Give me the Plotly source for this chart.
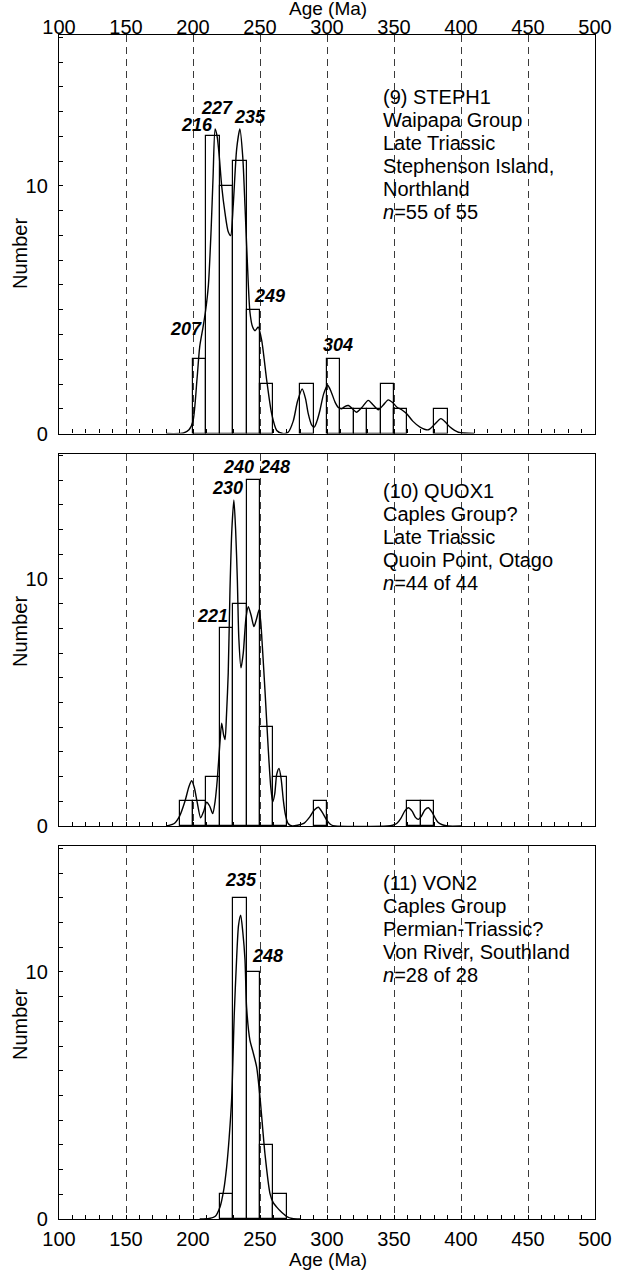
import plotly.graph_objects as go

# ---------------- data ----------------
# Histogram bins (left edge, Ma) and counts, 10 Ma bin width
bin_width = 10
steph_edges = [200, 210, 220, 230, 240, 250, 280, 300, 310, 320, 330, 340, 350, 380]
steph_counts = [3, 12, 10, 11, 5, 2, 2, 3, 1, 1, 1, 2, 1, 1]

quox_edges = [190, 200, 210, 220, 230, 240, 250, 260, 290, 360, 370]
quox_counts = [1, 1, 2, 8, 9, 14, 4, 2, 1, 1, 1]

von_edges = [220, 230, 240, 250, 260]
von_counts = [1, 13, 10, 3, 1]

# Probability density curves (age, scaled value)
steph_kde_age = [180, 193, 197, 200, 203, 205, 207.5, 209.5, 211.5, 213.5, 215, 216.5, 218,
                 219.6, 221.4, 223.9, 226.3, 228.1, 230, 232.6, 235, 237.1, 238.8, 240.5,
                 242.5, 244.5, 246.3, 248.7, 251.3, 255, 258.7, 262.5, 267, 271, 274.8, 278,
                 281.5, 284, 286, 288.5, 290.5, 292.5, 294.8, 297.5, 300.5, 303, 306, 308.5,
                 311, 313.5, 316, 319, 322, 326, 330.8, 334.5, 338.3, 342, 345.7, 349, 352,
                 356, 359.5, 364, 369.4, 375.6, 380, 385, 388.5, 391.8, 398, 410]
steph_kde_val = [0.0, 0.02, 0.15, 0.5, 2.2, 3.5, 4.3, 5.0, 6.0, 8.2, 10.4, 12.3, 12.0,
                 11.2, 10.0, 8.9, 8.15, 8.0, 9.2, 11.5, 12.3, 11.2, 9.2, 7.0,
                 4.9, 4.3, 4.15, 4.3, 3.75, 2.15, 0.8, 0.12, 0.0, 0.05, 0.5, 1.3,
                 1.8, 1.4, 0.8, 0.35, 0.26, 0.5, 0.95, 1.6, 1.95, 1.7, 1.27, 1.05,
                 1.0, 1.1, 1.13, 1.0, 0.86, 1.05, 1.34, 1.15, 0.96, 1.15, 1.36, 1.25, 1.07,
                 0.95, 0.8, 0.5, 0.26, 0.15, 0.35, 0.6, 0.45, 0.26, 0.05, 0.0]

quox_kde_age = [180, 186, 190, 194, 197, 199, 201, 203, 205.7, 208, 210.2, 212.5, 214.7,
                216.5, 218.1, 220, 221.4, 222.8, 223.9, 225, 226.3, 227.6, 229, 230.5, 231.8,
                233.1, 234.2, 235.8, 237.5, 239.5, 241.3, 243.5, 245.5, 247.5, 249.3, 250.5,
                251.5, 253.7, 256.2, 258, 259.5, 261, 262.5, 264.2, 265.8, 267.4, 269, 271,
                274, 278, 283, 287.3, 290.5, 293.5, 296.5, 299.8, 303, 306, 345, 349, 352,
                355, 358, 360.7, 363.5, 366, 368.2, 370.5, 373, 375.6, 378.5, 381, 383, 386,
                390.5, 400]
quox_kde_val = [0.0, 0.1, 0.4, 1.0, 1.6, 1.83, 1.55, 1.0, 0.33, 0.6, 0.96, 0.8, 0.5,
                1.0, 1.86, 3.3, 4.16, 3.7, 3.5, 4.5, 6.2, 9.55, 12.0, 13.2, 12.0,
                9.96, 7.6, 6.4, 7.0, 8.4, 8.88, 8.5, 8.07, 8.4, 8.75, 8.3,
                7.5, 5.5, 3.08, 1.6, 0.98, 1.3, 2.1, 2.33, 1.9, 1.05, 0.45, 0.1,
                0.0, 0.03, 0.12, 0.38, 0.65, 0.76, 0.55, 0.24, 0.05, 0.0, 0.0, 0.03, 0.1,
                0.3, 0.6, 0.74, 0.6, 0.35, 0.27, 0.4, 0.65, 0.74, 0.55, 0.3, 0.14, 0.05,
                0.0, 0.0]

von_kde_age = [205, 212, 216.4, 220.1, 223, 225.1, 227, 228.9, 230.8, 232.6, 234, 235.6,
               237.2, 238.8, 240, 242.5, 244.5, 247.5, 250, 253.7, 257.5, 260, 262.5, 265,
               267.4, 270, 274, 280]
von_kde_val = [0.0, 0.02, 0.1, 0.48, 1.2, 2.1, 3.3, 4.93, 8.3, 10.6, 11.9, 12.3,
               11.6, 10.5, 8.57, 7.23, 6.82, 6.15, 4.93, 2.64, 1.02, 0.65, 0.48, 0.33,
               0.21, 0.1, 0.02, 0.0]

# Peak age labels
steph_peaks = ["207", "216", "227", "235", "249", "304"]
quox_peaks = ["221", "230", "240", "248"]
von_peaks = ["235", "248"]

steph_text = ["(9) STEPH1", "Waipapa Group", "Late Triassic", "Stephenson Island,",
              "Northland", "<i>n</i>=55 of 55"]
quox_text = ["(10) QUOX1", "Caples Group?", "Late Triassic", "Quoin Point, Otago",
             "<i>n</i>=44 of 44"]
von_text = ["(11) VON2", "Caples Group", "Permian-Triassic?", "Von River, Southland",
            "<i>n</i>=28 of 28"]

# ---------------- layout helpers ----------------
W, H = 622, 1271
FONT = "Liberation Sans, Arial, sans-serif"
FS = 20


def fx(px):
    return px / W


def fy(py):
    return 1 - py / H


x_dom = [fx(59), fx(595)]
panels = [  # (top px, bottom px, y max)
    (35, 433.5, 16.1),
    (454, 826, 15.06),
    (846, 1219, 15.1),
]

fig = go.Figure()

series = [
    (steph_edges, steph_counts, steph_kde_age, steph_kde_val),
    (quox_edges, quox_counts, quox_kde_age, quox_kde_val),
    (von_edges, von_counts, von_kde_age, von_kde_val),
]

for i, (edges, counts, kage, kval) in enumerate(series):
    xa = "x" if i == 0 else f"x{i + 1}"
    ya = "y" if i == 0 else f"y{i + 1}"
    fig.add_trace(go.Bar(
        x=edges, y=counts, width=bin_width, offset=0,
        marker=dict(color="rgba(0,0,0,0)", line=dict(color="black", width=1.2)),
        xaxis=xa, yaxis=ya, showlegend=False, hoverinfo="skip",
    ))
    fig.add_trace(go.Scatter(
        x=kage, y=kval, mode="lines",
        line=dict(color="black", width=1.4, shape="spline", smoothing=0.7),
        xaxis=xa, yaxis=ya, showlegend=False, hoverinfo="skip",
    ))

# invisible trace that carries the top age axis of the first panel
fig.add_trace(go.Scatter(x=[100], y=[None], xaxis="x4", yaxis="y",
                         showlegend=False, hoverinfo="skip"))

xaxis_common = dict(
    range=[100, 500], tick0=100, dtick=50,
    showgrid=True, gridcolor="#3a3a3a", gridwidth=1, griddash="7px,5px",
    showline=True, linecolor="black", linewidth=1.3, mirror=True,
    ticks="inside", ticklen=4, tickwidth=1, tickcolor="black",
    minor=dict(dtick=10, tick0=100, ticks="inside", ticklen=4, tickwidth=1,
               tickcolor="black", showgrid=False),
    zeroline=False, domain=x_dom, automargin=False,
    tickfont=dict(family=FONT, size=FS, color="black"),
)

layout = dict(
    width=W, height=H,
    margin=dict(l=0, r=0, t=0, b=0, autoexpand=False),
    paper_bgcolor="white", plot_bgcolor="white",
    font=dict(family=FONT, size=FS, color="black"),
    bargap=0,
)

for i, (top, bot, ymax) in enumerate(panels):
    sfx = "" if i == 0 else str(i + 1)
    xa = dict(xaxis_common)
    xa["anchor"] = "y" + sfx
    xa["showticklabels"] = (i == 2)
    if i == 2:
        xa["ticklabelstandoff"] = 2
    layout["xaxis" + sfx] = xa
    layout["yaxis" + sfx] = dict(
        range=[0, ymax], domain=[fy(bot), fy(top)], anchor="x" + sfx,
        tickvals=[0, 10], ticks="inside", ticklen=4, tickwidth=1, tickcolor="black",
        minor=dict(dtick=1, tick0=0, ticks="inside", ticklen=4, tickwidth=1,
                   tickcolor="black", showgrid=False),
        showgrid=False, zeroline=False, automargin=False,
        showline=True, linecolor="black", linewidth=1.3, mirror=True,
        tickfont=dict(family=FONT, size=FS, color="black"),
        ticklabelstandoff=6,
    )

# top age labels of the first panel, on a free axis just below the frame top
layout["xaxis4"] = dict(
    range=[100, 500], tick0=100, dtick=50, overlaying="x", side="top",
    anchor="free", position=fy(38),
    showgrid=False, showline=False, ticks="", zeroline=False, domain=x_dom,
    automargin=False,
    tickfont=dict(family=FONT, size=FS, color="black"),
)

fig.update_layout(**layout)

annotations = []


def text_at(px, py, txt, size=FS, xanchor="center", bold_italic=False, angle=0):
    if bold_italic:
        txt = f"<b><i>{txt}</i></b>"
    annotations.append(dict(
        x=fx(px), y=fy(py), xref="paper", yref="paper", text=txt, showarrow=False,
        xanchor=xanchor, yanchor="middle", textangle=angle, borderpad=0,
        font=dict(family=FONT, size=size, color="black"),
    ))


# axis titles
text_at(328, 8, "Age (Ma)", size=19)
text_at(328, 1259, "Age (Ma)", size=19)
for yc in (254, 632, 1025):
    text_at(20, yc, "Number", angle=-90)

# sample descriptions
for lines, y0 in ((steph_text, 97), (quox_text, 491), (von_text, 883)):
    for k, line in enumerate(lines):
        text_at(382, y0 + k * 23, line, xanchor="left")

# peak labels
steph_pos = [(186, 329), (197, 125), (217, 108), (250, 117), (269, 296), (338, 345)]
quox_pos = [(212, 616), (227, 488), (238, 467), (274, 467)]
von_pos = [(241, 880), (267, 956)]
for labels, pos in ((steph_peaks, steph_pos), (quox_peaks, quox_pos), (von_peaks, von_pos)):
    for lab, (px, py) in zip(labels, pos):
        text_at(px, py, lab, size=18, bold_italic=True)

fig.update_layout(annotations=annotations)

fig.write_html("out.html")
